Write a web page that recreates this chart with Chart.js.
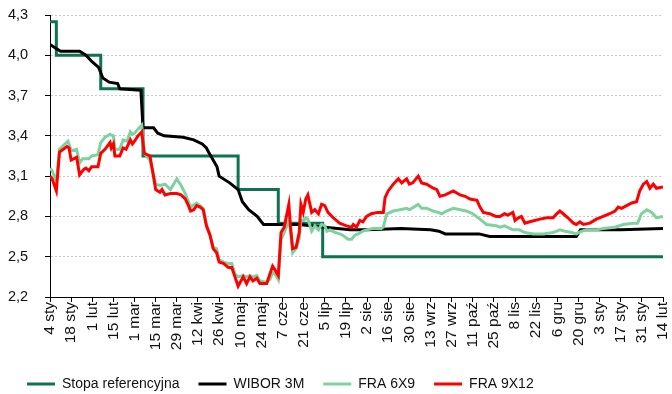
<!DOCTYPE html>
<html>
<head>
<meta charset="utf-8">
<script src="https://cdn.jsdelivr.net/npm/chart.js@4.4.0/dist/chart.umd.min.js"></script>
<style>
  html, body { margin: 0; padding: 0; background: #fff; overflow: hidden; }
  #wrap { width: 672px; height: 401px; position: relative; }
</style>
</head>
<body>
<div id="wrap"><canvas id="myChart"></canvas></div>
<script>
// -----------------------------
// Data (x = business day since 4 sty, one label every 10 days)
// -----------------------------
const dateLabels = ["4 sty", "18 sty", "1 lut", "15 lut", "1 mar", "15 mar", "29 mar", "12 kwi",
  "26 kwi", "10 maj", "24 maj", "7 cze", "21 cze", "5 lip", "19 lip", "2 sie", "16 sie", "30 sie",
  "13 wrz", "27 wrz", "11 paź", "25 paź", "8 lis", "22 lis", "6 gru", "20 gru", "3 sty", "17 sty",
  "31 sty", "14 lut"];

const seriesNames = ["Stopa referencyjna", "WIBOR 3M", "FRA 6X9", "FRA 9X12"];

const stopaRef = [[0, 4.25], [3, 4.00], [24, 3.75], [44, 3.25], [89, 3.00], [108, 2.75], [129, 2.50], [290, 2.50]];

const wibor3m = [[0, 4.08], [2, 4.06], [5, 4.03], [14, 4.03], [17, 4.00], [20, 3.95], [23, 3.91], [25, 3.83],
  [28, 3.80], [32, 3.79], [33, 3.75], [43, 3.74], [44, 3.46], [49, 3.46], [51, 3.42], [54, 3.40], [63, 3.39],
  [68, 3.37], [72, 3.34], [74, 3.31], [75, 3.28], [79, 3.17], [80, 3.10], [85, 3.05], [89, 3.00], [91, 2.91],
  [94, 2.85], [98, 2.80], [101, 2.74], [118, 2.74], [130, 2.72], [142, 2.70], [150, 2.70], [166, 2.71],
  [180, 2.70], [184, 2.69], [187, 2.67], [203, 2.67], [208, 2.65], [249, 2.65], [251, 2.70], [270, 2.70],
  [290, 2.71]];

const fra6x9 = [[0, 3.16], [1, 3.14], [3, 3.06], [4.5, 3.30], [8.5, 3.36], [10, 3.29], [12.6, 3.30], [14, 3.20],
  [15.5, 3.23], [18.4, 3.23], [19.7, 3.25], [22.7, 3.26], [24, 3.35], [26, 3.39], [28.4, 3.41], [30, 3.40],
  [30.7, 3.30], [33, 3.30], [34.6, 3.37], [36.5, 3.36], [38, 3.43], [39, 3.41], [40, 3.42], [41.6, 3.45],
  [43.4, 3.48], [44.6, 3.27], [47.3, 3.22], [48.4, 3.15], [50, 3.04], [52, 3.03], [54.4, 3.04], [57, 3.00],
  [60, 3.08], [62, 3.03], [64, 2.97], [66.5, 2.87], [69.4, 2.90], [71, 2.88], [72.5, 2.86], [74, 2.74],
  [75.7, 2.66], [77.2, 2.57], [78.8, 2.56], [80, 2.48], [82, 2.46], [84.4, 2.45], [86, 2.45], [87.5, 2.37],
  [89, 2.35], [91.4, 2.36], [93, 2.35], [94.6, 2.36], [96, 2.35], [97.8, 2.36], [99.3, 2.32], [102.5, 2.31],
  [104, 2.33], [105.3, 2.38], [106.5, 2.37], [108, 2.33], [109.3, 2.63], [110.8, 2.68], [113, 2.77],
  [113.9, 2.68], [114.8, 2.53], [116.4, 2.56], [117.9, 2.63], [118.7, 2.77], [120, 2.77], [121, 2.79],
  [122, 2.78], [123.8, 2.69], [125.3, 2.73], [127, 2.70], [128.5, 2.74], [130, 2.73], [131, 2.69],
  [132.5, 2.70], [135, 2.68], [137, 2.67], [138.5, 2.66], [141, 2.63], [142.7, 2.63], [144.2, 2.66],
  [145.8, 2.67], [148, 2.69], [149.8, 2.70], [152.8, 2.71], [156.7, 2.71], [157.7, 2.72], [159.3, 2.82],
  [162.4, 2.84], [165.6, 2.85], [168.7, 2.86], [170, 2.85], [174.2, 2.89], [175.8, 2.86], [178.2, 2.86],
  [181.3, 2.84], [183.6, 2.83], [185.3, 2.82], [187.6, 2.84], [190.8, 2.86], [194, 2.85], [197, 2.84],
  [200, 2.82], [203.4, 2.78], [206.5, 2.74], [211, 2.73], [213, 2.72], [215, 2.73], [219, 2.70], [222, 2.70],
  [224.7, 2.68], [228.6, 2.67], [233.4, 2.67], [238, 2.68], [241.2, 2.70], [243.6, 2.69], [246.8, 2.68],
  [249, 2.67], [251.5, 2.69], [253.9, 2.70], [258.6, 2.70], [261.7, 2.71], [267.3, 2.72], [271.2, 2.74],
  [276, 2.75], [278, 2.75], [279.8, 2.82], [282.3, 2.85], [284.7, 2.83], [286.9, 2.79], [290, 2.80]];

const fra9x12 = [[0, 3.10], [1, 3.08], [3, 2.99], [4.5, 3.28], [8, 3.32], [9, 3.31], [10, 3.22], [12.6, 3.24],
  [14, 3.11], [16, 3.15], [17, 3.16], [18.4, 3.14], [19.7, 3.17], [22.7, 3.17], [24, 3.27], [26, 3.30],
  [28.4, 3.35], [29, 3.31], [30, 3.34], [30.7, 3.25], [33, 3.25], [34.6, 3.31], [36, 3.30], [38, 3.37],
  [39, 3.34], [40, 3.36], [41.6, 3.40], [43.4, 3.43], [44.6, 3.27], [47.3, 3.25], [48.4, 3.15], [50, 3.00],
  [52, 2.98], [53, 3.00], [54.4, 2.96], [57, 2.97], [60, 2.97], [62, 2.96], [64, 2.93], [65.5, 2.88],
  [66.5, 2.84], [68, 2.85], [69.4, 2.88], [71, 2.87], [72.5, 2.85], [74, 2.73], [75.7, 2.66], [77.2, 2.56],
  [78.8, 2.53], [80, 2.46], [82, 2.45], [84.4, 2.42], [86, 2.42], [87.5, 2.35], [89, 2.28], [91.4, 2.35],
  [93, 2.30], [94.6, 2.35], [96, 2.32], [97.8, 2.34], [99.3, 2.30], [102.5, 2.30], [104, 2.37], [105.3, 2.43],
  [106.5, 2.40], [108, 2.36], [109.3, 2.68], [110.8, 2.72], [113, 2.89], [113.9, 2.70], [114.8, 2.56],
  [116.4, 2.57], [117.9, 2.68], [118.7, 2.89], [119.8, 2.83], [121, 2.93], [122, 2.96], [123.8, 2.83],
  [125.3, 2.85], [127, 2.82], [128.5, 2.89], [130, 2.88], [131.5, 2.83], [134, 2.79], [137, 2.75],
  [140.3, 2.73], [142.7, 2.72], [143.5, 2.74], [145, 2.72], [146.6, 2.77], [148, 2.76], [149.8, 2.80],
  [152, 2.82], [155, 2.83], [157.7, 2.83], [158.5, 2.94], [160, 2.99], [162.4, 3.04], [164.8, 3.08],
  [166.4, 3.05], [168.7, 3.08], [170, 3.04], [171.6, 3.05], [174.2, 3.10], [175.8, 3.05], [178.2, 3.04],
  [181.3, 3.01], [183, 3.00], [184.5, 2.95], [187, 2.96], [190.8, 2.99], [194, 2.96], [196.4, 2.95],
  [198.7, 2.93], [202, 2.92], [203.4, 2.87], [205, 2.83], [208, 2.82], [211, 2.80], [212.9, 2.80],
  [215, 2.82], [216.6, 2.81], [219, 2.83], [220, 2.77], [221.6, 2.79], [223, 2.80], [224.7, 2.75],
  [227, 2.76], [231.8, 2.78], [235, 2.79], [238, 2.79], [239.7, 2.82], [241.2, 2.84], [242.8, 2.82],
  [245, 2.79], [247.6, 2.75], [249, 2.74], [250.7, 2.76], [252.3, 2.74], [255.4, 2.75], [258.5, 2.78],
  [261.7, 2.80], [264.8, 2.82], [267.3, 2.84], [268.8, 2.87], [270.4, 2.86], [272.8, 2.88], [275.2, 2.90],
  [277.5, 2.91], [279, 2.99], [280.7, 3.04], [282.3, 3.06], [283.8, 3.01], [285.4, 3.04], [286.9, 3.01],
  [290, 3.02]];

// -----------------------------
// Chart
// -----------------------------
Chart.defaults.font.family = "'Liberation Sans', Arial, sans-serif";
Chart.defaults.color = "#111";

const toPoints = arr => arr.map(([x, y]) => ({ x, y }));

function lineSet(label, data, color, extra) {
  return Object.assign({
    label,
    data: toPoints(data),
    borderColor: color,
    backgroundColor: color,
    borderWidth: 3,
    pointRadius: 0,
    tension: 0
  }, extra || {});
}

const ctx = document.getElementById("myChart").getContext("2d");
new Chart(ctx, {
  type: "line",
  data: {
    datasets: [
      lineSet(seriesNames[0], stopaRef, "#0e7350", { stepped: "before", order: 3 }),
      lineSet(seriesNames[1], wibor3m, "#000000", { order: 2 }),
      lineSet(seriesNames[2], fra6x9, "#7fd19f", { order: 1 }),
      lineSet(seriesNames[3], fra9x12, "#ff0000", { order: 0 })
    ]
  },
  options: {
    responsive: true,
    maintainAspectRatio: false,
    animation: false,
    layout: { padding: { left: 8, right: 9, top: 15, bottom: 0 } },
    plugins: {
      tooltip: { enabled: false },
      legend: {
        position: "bottom",
        align: "start",
        labels: {
          boxWidth: 28,
          boxHeight: 0,
          padding: 19,
          color: "#111",
          font: { size: 14 },
          sort: (a, b) => a.datasetIndex - b.datasetIndex
        }
      }
    },
    scales: {
      x: {
        type: "linear",
        min: 0,
        max: 290,
        afterFit: s => { s.height = 61; s.paddingLeft = 0; s.paddingRight = 0; },
        ticks: {
          stepSize: 10,
          autoSkip: false,
          minRotation: 90,
          maxRotation: 90,
          padding: 0,
          color: "#111",
          font: { size: 15.5 },
          callback: v => dateLabels[Math.round(v / 10)]
        },
        grid: { drawOnChartArea: false, tickLength: 5, tickColor: "#000" },
        border: { color: "#000", width: 1 }
      },
      y: {
        min: 2.2,
        max: 4.3,
        afterFit: s => { s.width = 42; s.paddingTop = 0; s.paddingBottom = 0; },
        ticks: {
          stepSize: 0.3,
          padding: 0,
          crossAlign: "far",
          color: "#111",
          font: { size: 14.5 },
          callback: v => v.toFixed(1).replace(".", ",")
        },
        grid: { color: "#c8c8c8", tickColor: "#000", tickLength: 5, tickBorderDash: [] },
        border: { color: "#000", width: 1, dash: [2, 2] }
      }
    }
  }
});
</script>
</body>
</html>
